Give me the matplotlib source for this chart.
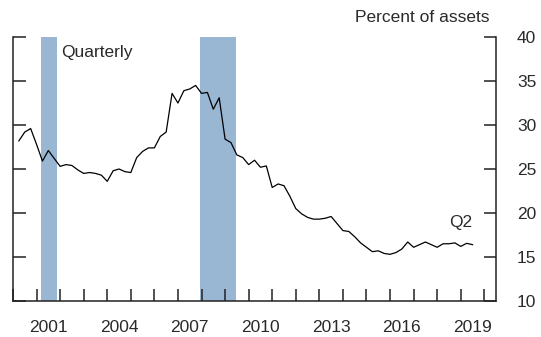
import numpy as np
import pandas as pd
import matplotlib
matplotlib.use('Agg')
import matplotlib.pyplot as plt

plt.rcParams['font.family'] = ['Liberation Sans', 'DejaVu Sans']
plt.rcParams['font.size'] = 12.5

# quarterly share, percent of assets, 2000:Q1 - 2019:Q2
quarters = pd.period_range('2000Q1', '2019Q2', freq='Q')
share = [
    28.2, 29.2, 29.6, 27.8,
    25.9, 27.1, 26.2, 25.3,
    25.5, 25.4, 24.9, 24.5,
    24.6, 24.5, 24.3, 23.6,
    24.8, 25.0, 24.7, 24.6,
    26.3, 27.0, 27.4, 27.4,
    28.7, 29.2, 33.6, 32.5,
    33.9, 34.1, 34.5, 33.6,
    33.7, 31.8, 33.1, 28.4,
    28.0, 26.6, 26.3, 25.5,
    26.0, 25.2, 25.35, 22.9,
    23.3, 23.1, 21.9, 20.5,
    19.9, 19.5, 19.3, 19.3,
    19.4, 19.6, 18.8, 18.0,
    17.9, 17.3, 16.6, 16.1,
    15.6, 15.7, 15.4, 15.3,
    15.5, 15.9, 16.7, 16.1,
    16.4, 16.7, 16.4, 16.1,
    16.5, 16.5, 16.6, 16.2,
    16.55, 16.4,
]

# NBER recessions as decimal years
recessions = [(2001.17, 2001.87), (2007.92, 2009.45)]

label_years = [2001, 2004, 2007, 2010, 2013, 2016, 2019]
y_ticks = [10, 15, 20, 25, 30, 35, 40]

# plot each quarter at its end
x = quarters.year + quarters.quarter / 4.0

text_color = '#2a2a2a'

fig = plt.figure(figsize=(5.41, 3.37), dpi=100)
ax = fig.add_axes([0.024, 0.107, 0.893, 0.783])

for start, end in recessions:
    ax.axvspan(start, end, color='#99b6d3', lw=0, zorder=1)

ax.plot(x, share, color='black', lw=0.9, zorder=3)

ax.set_xlim(2000, 2020.5)
ax.set_ylim(10, 40)

# year boundaries get tick marks, labels sit mid-year
ax.set_xticks(np.arange(2000, 2021))
ax.set_xticklabels([])
ax.set_xticks([yr + 0.5 for yr in label_years], minor=True)
ax.set_xticklabels([str(yr) for yr in label_years], minor=True)
ax.tick_params(axis='x', which='major', direction='in', length=9, width=1.1, color='#222222')
ax.tick_params(axis='x', which='minor', length=0, pad=14, labelcolor=text_color)

ax.set_yticks(y_ticks)
ax.tick_params(axis='y', which='major', direction='in', length=9, width=1.1, color='#222222',
               left=True, right=True, labelleft=False, labelright=True, pad=15,
               labelcolor=text_color)

for side in ['left', 'right', 'bottom']:
    ax.spines[side].set_linewidth(1.1)
    ax.spines[side].set_color('#222222')
ax.spines['top'].set_visible(False)

ax.text(2002.05, 38.2, 'Quarterly', ha='left', va='center', color=text_color)
ax.text(2019.5, 18.9, 'Q2', ha='right', va='center', color=text_color)
ax.text(2020.2, 42.2, 'Percent of assets', ha='right', va='center', color=text_color,
        clip_on=False)

fig.savefig('out.png', dpi=100)
